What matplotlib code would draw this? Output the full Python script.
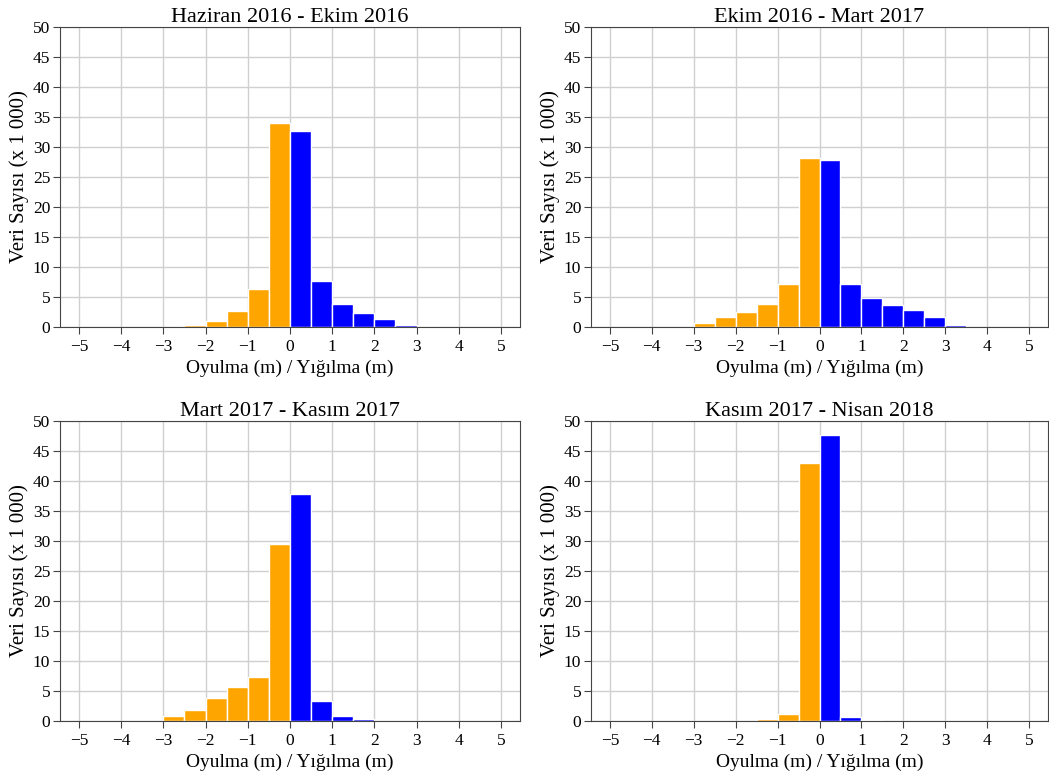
import numpy as np
import matplotlib
matplotlib.use("Agg")
import matplotlib.pyplot as plt

plt.rcParams['font.family'] = ['Liberation Serif', 'DejaVu Serif']

titles = ["Haziran 2016 - Ekim 2016", "Ekim 2016 - Mart 2017",
          "Mart 2017 - Kasım 2017", "Kasım 2017 - Nisan 2018"]

# bins of 0.5 m, left edges
oyulma_edges = [-3.0, -2.5, -2.0, -1.5, -1.0, -0.5]
yigilma_edges = [0.0, 0.5, 1.0, 1.5, 2.0, 2.5, 3.0]

# counts (x 1000)
oyulma_counts = [
    [0.0, 0.3, 1.0, 2.6, 6.3, 34.0],
    [0.6, 1.6, 2.5, 3.9, 7.2, 28.2],
    [0.8, 1.9, 3.8, 5.6, 7.4, 29.5],
    [0.0, 0.0, 0.0, 0.3, 1.2, 43.0],
]
yigilma_counts = [
    [32.6, 7.7, 3.9, 2.4, 1.4, 0.3, 0.0],
    [27.9, 7.2, 4.8, 3.7, 2.9, 1.7, 0.3],
    [37.8, 3.4, 0.9, 0.4, 0.0, 0.0, 0.0],
    [47.6, 0.7, 0.2, 0.0, 0.0, 0.0, 0.0],
]

bin_w = 0.5
fig = plt.figure(figsize=(10.49, 7.78), dpi=100)
positions = [
    [0.0572, 0.5797, 0.4385, 0.3856],
    [0.5634, 0.5797, 0.4357, 0.3856],
    [0.0572, 0.0733, 0.4385, 0.3856],
    [0.5634, 0.0733, 0.4357, 0.3856],
]

for i in range(4):
    ax = fig.add_axes(positions[i])
    ax.set_axisbelow(True)
    ax.grid(True, color='#d0d0d0', linewidth=1)
    ax.bar(oyulma_edges, oyulma_counts[i], width=bin_w, align='edge',
           color='orange', edgecolor='white', linewidth=1)
    ax.bar(yigilma_edges, yigilma_counts[i], width=bin_w, align='edge',
           color='blue', edgecolor='white', linewidth=1)
    ax.set_xlim(-5.45, 5.45)
    ax.set_ylim(0, 50)
    ax.set_xticks(np.arange(-5, 6, 1))
    ax.set_yticks(np.arange(0, 51, 5))
    ax.tick_params(labelsize=12.5, color='#444444', length=5)
    ax.tick_params(axis='x', pad=4)
    ax.tick_params(axis='y', pad=2)
    for s in ax.spines.values():
        s.set_color('#444444')
    ax.set_title(titles[i], fontsize=16, pad=3)
    ax.set_xlabel("Oyulma (m) / Yığılma (m)", fontsize=14, labelpad=3)
    ax.set_ylabel("Veri Sayısı (x 1 000)", fontsize=15, labelpad=3)

fig.savefig("out.png", dpi=100)
